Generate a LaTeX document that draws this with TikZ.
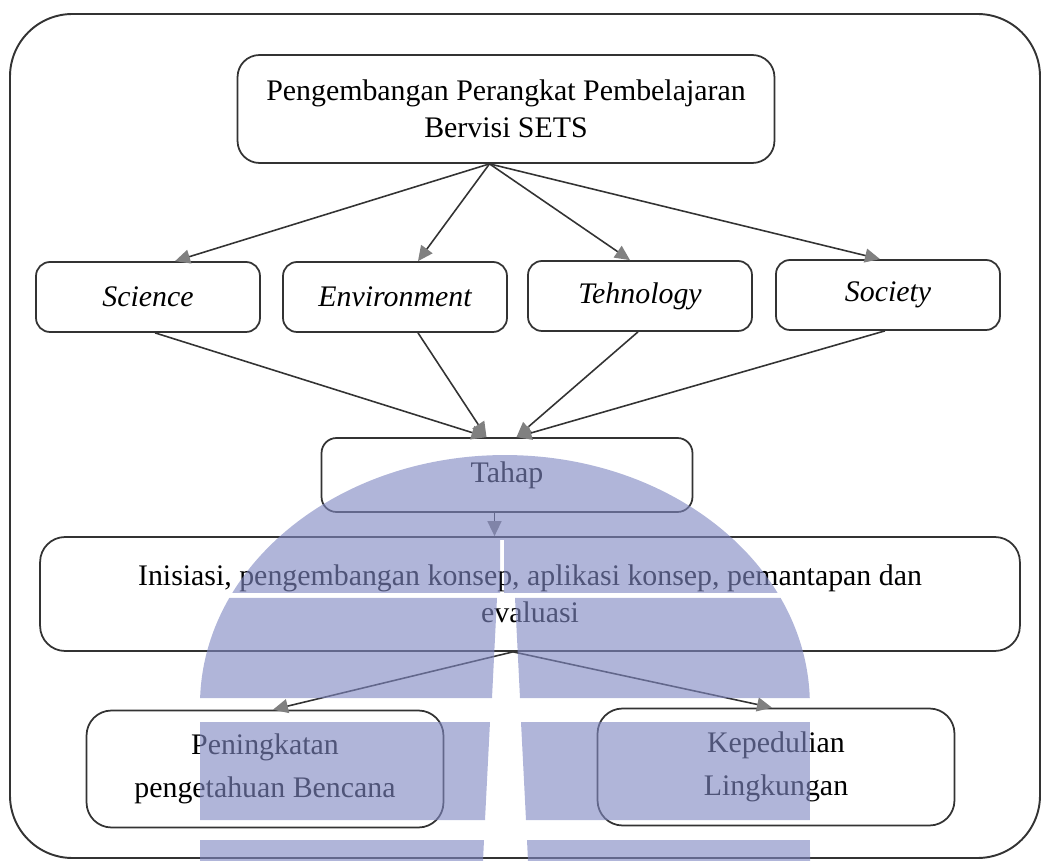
\documentclass[tikz,border=0pt]{standalone}
\usepackage{fontspec}
\setmainfont{Liberation Serif}
\usetikzlibrary{arrows.meta}
\definecolor{wmblue}{RGB}{128,136,194}

\begin{document}
\begin{tikzpicture}[x=0.02cm,y=-0.02cm,font=\fontsize{17}{21}\selectfont,
  >={Triangle[length=3mm,width=2.8mm,color=black!50]},
  box/.style={draw=black!80,line width=1pt,rounded corners=#1,align=center,
    inner sep=2pt},
  box/.default=2.8mm,
  field/.style={box,minimum width=4.48cm,minimum height=1.4cm,
    font=\fontsize{17}{21}\selectfont\itshape},
  result/.style={box=5mm,minimum width=7.14cm,minimum height=2.34cm},
  flow/.style={->,line width=.9pt,draw=black!80}]
\useasboundingbox (0,0) rectangle (1042,861);
\draw[line width=1.1pt,draw=black!80,rounded corners=1.25cm] (10,14) rectangle (1040,858);
\node[box=4.4mm,minimum width=10.74cm,minimum height=2.16cm] (sets) at (506,109)
  {Pengembangan Perangkat Pembelajaran\\Bervisi SETS};
\node[field] (science) at (148,297) {Science};
\node[field] (environment) at (395,297) {Environment};
\node[field] (technology) at (640,296) {Tehnology};
\node[field] (society) at (888,295) {Society};
\node[box=3mm,minimum width=7.42cm,minimum height=1.48cm] (tahap) at (507,475) {Tahap};
\node[box=5mm,minimum width=19.6cm,minimum height=2.28cm] (stages) at (530,594)
  {Inisiasi, pengembangan konsep, aplikasi konsep, pemantapan dan\\evaluasi};
\node[result] (knowledge) at (265,769) {Peningkatan\\[1.2mm]pengetahuan Bencana};
\node[result] (care) at (776,767) {Kepedulian\\[1.2mm]Lingkungan};
\coordinate (fork) at ([xshift=-3.3mm]sets.south);
\draw[flow] (fork) -- ([xshift=5.4mm]science.north);
\draw[flow] (fork) -- ([xshift=4.6mm]environment.north);
\draw[flow] (fork) -- ([xshift=-2mm]technology.north);
\draw[flow] (fork) -- ([xshift=-1.6mm]society.north);
\draw[flow] ([xshift=1.4mm]science.south) -- ([xshift=-4.1mm]tahap.north);
\draw[flow] ([xshift=4.6mm]environment.south) -- ([xshift=-4.1mm]tahap.north);
\draw[flow] ([xshift=-.4mm]technology.south) -- ([xshift=1.9mm]tahap.north);
\draw[flow] ([xshift=-.6mm]society.south) -- ([xshift=1.9mm]tahap.north);
\coordinate (drop) at ([xshift=-2.5mm]tahap.south);
\draw[flow] (drop) -- (drop |- stages.north);
\coordinate (split) at ([xshift=-3.4mm]stages.south);
\draw[flow] (split) -- ([xshift=1.6mm]knowledge.north);
\draw[flow] (split) -- ([xshift=-.8mm]care.north);
% watermark over the figure
\begin{scope}[fill opacity=.62]
\clip (200,861) -- (200,705) arc[start angle=180,end angle=0,x radius=6.1cm,y radius=5cm]
  -- (810,861) -- cycle;
\fill[wmblue] (0,440) -- (1042,440) -- (1042,593) -- (504,593) -- (504,540)
  -- (500,540) -- (500,593) -- (0,593) -- cycle;
\foreach \ya/\yb/\la/\lb/\ra/\rb in {598/698/497/492/515/520,722/820/490/485/521/526,
    840/861/484/483/527/528}{
  \fill[wmblue] (0,\ya) -- (\la,\ya) -- (\lb,\yb) -- (0,\yb) -- cycle;
  \fill[wmblue] (\ra,\ya) -- (1042,\ya) -- (1042,\yb) -- (\rb,\yb) -- cycle;
}
\end{scope}
\end{tikzpicture}
\end{document}
